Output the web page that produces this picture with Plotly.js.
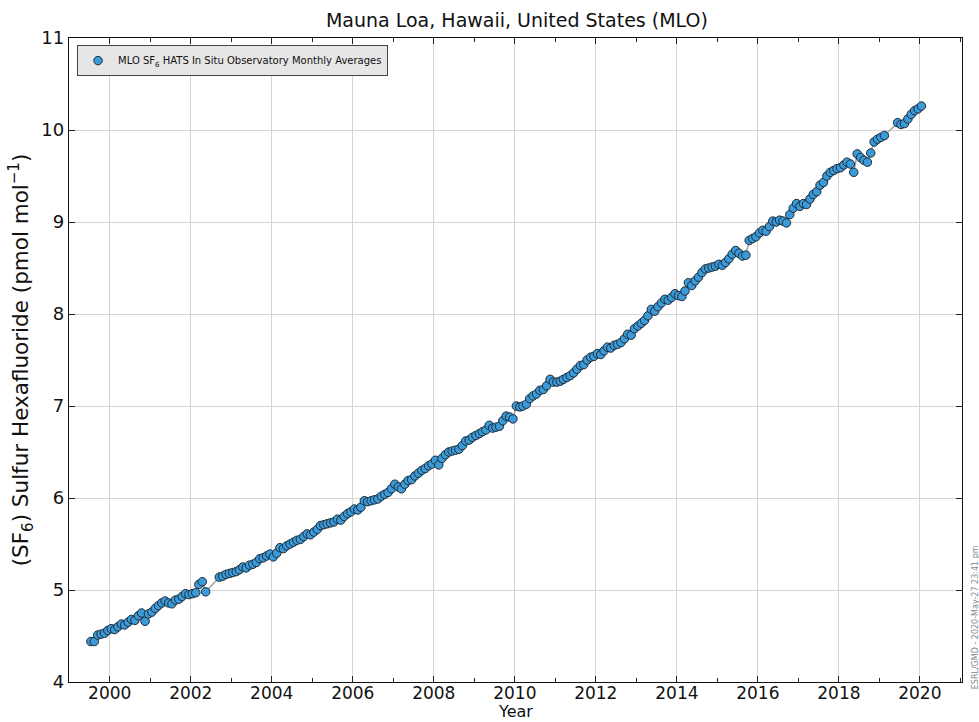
<!DOCTYPE html>
<html>
<head>
<meta charset="utf-8">
<script src="https://cdn.plot.ly/plotly-3.0.1.min.js"></script>
<style>html,body{margin:0;padding:0;background:#fff;}#chart{width:979px;height:722px;}</style>
</head>
<body>
<div id="chart"></div>
<script>
// Monthly averages (pmol/mol), Jan..Dec; null = no data
const sf6_1999 = [null,null,null,null,null,null,4.44,4.44,4.51,4.52,4.53,4.56];
const sf6_2000 = [4.58,4.57,4.60,4.63,4.62,4.65,4.68,4.67,4.72,4.75,4.66,4.74];
const sf6_2001 = [4.76,4.80,4.83,4.86,4.88,4.86,4.85,4.89,4.90,4.93,4.96,4.95];
const sf6_2002 = [4.96,4.97,5.06,5.09,4.98,null,null,null,5.14,5.15,5.17,5.18];
const sf6_2003 = [5.19,5.20,5.22,5.25,5.24,5.27,5.28,5.30,5.34,5.35,5.37,5.39];
const sf6_2004 = [5.36,5.40,5.46,5.45,5.48,5.50,5.52,5.54,5.55,5.58,5.61,5.60];
const sf6_2005 = [5.63,5.66,5.70,5.71,5.72,5.73,5.74,5.77,5.76,5.80,5.83,5.85];
const sf6_2006 = [5.88,5.87,5.90,5.97,5.96,5.97,5.98,5.99,6.02,6.04,6.06,6.10];
const sf6_2007 = [6.15,6.12,6.10,6.15,6.19,6.20,6.24,6.27,6.30,6.32,6.35,6.37];
const sf6_2008 = [6.41,6.36,6.43,6.47,6.50,6.51,6.52,6.53,6.57,6.62,6.63,6.66];
const sf6_2009 = [6.68,6.70,6.72,6.74,6.79,6.76,6.77,6.78,6.84,6.89,6.88,6.86];
const sf6_2010 = [7.00,6.99,7.00,7.02,7.08,7.11,7.13,7.17,7.18,7.22,7.29,7.26];
const sf6_2011 = [7.26,7.27,7.29,7.31,7.33,7.36,7.40,7.44,7.45,7.50,7.53,7.54];
const sf6_2012 = [7.57,7.56,7.60,7.64,7.63,7.66,7.67,7.69,7.73,7.78,7.77,7.84];
const sf6_2013 = [7.87,7.90,7.93,7.98,8.05,8.03,8.08,8.12,8.16,8.15,8.18,8.22];
const sf6_2014 = [8.20,8.19,8.25,8.34,8.31,8.36,8.40,8.45,8.49,8.50,8.51,8.52];
const sf6_2015 = [8.54,8.53,8.56,8.60,8.65,8.69,8.66,8.63,8.64,8.80,8.82,8.84];
const sf6_2016 = [8.88,8.91,8.90,8.95,9.01,9.00,9.02,9.01,8.99,9.08,9.15,9.20];
const sf6_2017 = [9.17,9.20,9.19,9.25,9.30,9.33,9.40,9.43,9.50,9.54,9.56,9.58];
const sf6_2018 = [9.59,9.62,9.65,9.63,9.54,9.74,9.70,9.67,9.65,9.75,9.87,9.90];
const sf6_2019 = [9.92,9.94,null,null,null,10.08,10.06,10.07,10.12,10.17,10.21,10.23];
const sf6_2020 = [10.26,null,null,null,null,null,null,null,null,null,null,null];

const yearList = [1999,2000,2001,2002,2003,2004,2005,2006,2007,2008,2009,2010,2011,2012,2013,2014,2015,2016,2017,2018,2019,2020];
const yearData = [sf6_1999,sf6_2000,sf6_2001,sf6_2002,sf6_2003,sf6_2004,sf6_2005,sf6_2006,sf6_2007,sf6_2008,sf6_2009,sf6_2010,sf6_2011,sf6_2012,sf6_2013,sf6_2014,sf6_2015,sf6_2016,sf6_2017,sf6_2018,sf6_2019,sf6_2020];

const xTickVals = ['2000-01-01','2002-01-01','2004-01-01','2006-01-01','2008-01-01','2010-01-01','2012-01-01','2014-01-01','2016-01-01','2018-01-01','2020-01-01'];
const xTickText = ['2000','2002','2004','2006','2008','2010','2012','2014','2016','2018','2020'];
const yTickVals = [4,5,6,7,8,9,10,11];

const dates = [], vals = [];
yearList.forEach((yr, i) => {
  yearData[i].forEach((v, m) => {
    if (v === null) return;
    const mm = String(m + 1).padStart(2, '0');
    dates.push(yr + '-' + mm + '-15');
    vals.push(v);
  });
});

const FONT = 'DejaVu Sans, Liberation Sans, sans-serif';

const traces = [
  {
    x: dates, y: vals, type: 'scatter', mode: 'lines+markers',
    line: {color: '#a8a8a8', width: 1.6},
    marker: {color: '#3d9ad8', size: 8.5, line: {color: '#1b2a36', width: 1}},
    showlegend: false, hoverinfo: 'x+y'
  },
  {
    x: [null], y: [null], type: 'scatter', mode: 'markers',
    name: 'MLO SF<sub>6</sub> HATS In Situ Observatory Monthly Averages',
    marker: {color: '#3d9ad8', size: 8.5, line: {color: '#1b2a36', width: 1}},
    showlegend: true
  }
];

const layout = {
  width: 979, height: 722,
  margin: {l: 69, r: 17, t: 38, b: 40},
  paper_bgcolor: '#ffffff', plot_bgcolor: '#ffffff',
  font: {family: FONT, color: '#111'},
  title: {
    text: 'Mauna Loa, Hawaii, United States (MLO)',
    font: {family: FONT, size: 19, color: '#111'},
    x: 0.528, xanchor: 'center', y: 0.972, yanchor: 'middle', yref: 'container'
  },
  xaxis: {
    type: 'date',
    range: ['1998-12-30', '2021-01-15'],
    tickvals: xTickVals, ticktext: xTickText,
    ticks: 'inside', ticklen: 6, tickcolor: '#222', tickwidth: 1,
    ticklabelstandoff: -5,
    minor: {dtick: 'M12', tick0: '2000-01-01', ticks: 'inside', ticklen: 4, tickcolor: '#222', showgrid: false},
    showgrid: true, gridcolor: '#d8d2d2', gridwidth: 1,
    showline: true, linecolor: '#111', linewidth: 1.3, mirror: 'ticks',
    zeroline: false,
    tickfont: {family: FONT, size: 17, color: '#111'},
    title: {text: ''}
  },
  yaxis: {
    range: [4, 11],
    tickvals: yTickVals,
    ticks: 'inside', ticklen: 6, tickcolor: '#222', tickwidth: 1,
    showgrid: true, gridcolor: '#d8d2d2', gridwidth: 1,
    showline: true, linecolor: '#111', linewidth: 1.3, mirror: 'ticks',
    zeroline: false,
    tickfont: {family: FONT, size: 18, color: '#111'},
    title: {text: '(SF<sub>6</sub>) Sulfur Hexafluoride (pmol mol<sup>\u22121</sup>)', font: {family: FONT, size: 21.5, color: '#111'}, standoff: 6}
  },
  legend: {
    x: 0.009, y: 0.989, xanchor: 'left', yanchor: 'top',
    bgcolor: '#e6e6e6', bordercolor: '#444', borderwidth: 1,
    font: {family: FONT, size: 10, color: '#111'},
    itemwidth: 30, tracegroupgap: 0
  },
  annotations: [
    {
      text: 'Year',
      xref: 'paper', yref: 'paper', x: 0.5, y: -0.0618,
      xanchor: 'center', yanchor: 'bottom', showarrow: false, borderpad: 0,
      font: {family: FONT, size: 16, color: '#111'}
    },
    {
      text: 'ESRL/GMD - 2020-May-27 23:41 pm',
      xref: 'paper', yref: 'paper', x: 1.008, y: 0.1,
      xanchor: 'left', yanchor: 'middle', textangle: -90, showarrow: false,
      font: {family: FONT, size: 8, color: '#888'}
    }
  ]
};

Plotly.newPlot('chart', traces, layout, {displayModeBar: false, staticPlot: true});
</script>
</body>
</html>
